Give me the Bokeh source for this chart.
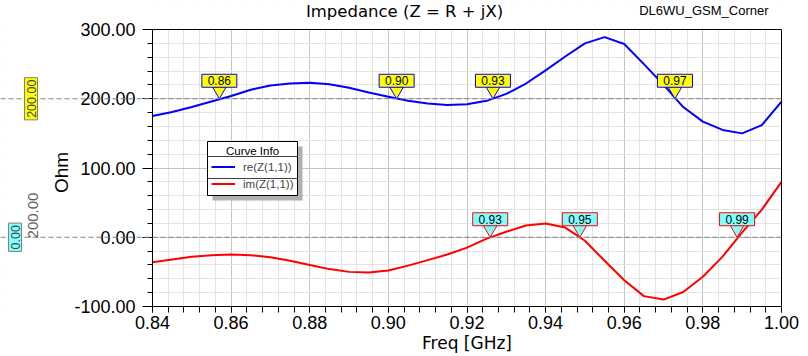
import numpy as np
from bokeh.plotting import figure
from bokeh.models import (Range1d, SingleIntervalTicker, NumeralTickFormatter, Label, Arrow,
                          BoxAnnotation, Legend, LegendItem, LinearAxis)
from bokeh.embed import file_html
from bokeh.resources import INLINE

# ---------------- data ----------------
freq = [0.840, 0.845, 0.850, 0.855, 0.860, 0.865, 0.870, 0.875, 0.880, 0.885, 0.890,
        0.895, 0.900, 0.905, 0.910, 0.915, 0.920, 0.925, 0.930, 0.935, 0.940, 0.945,
        0.950, 0.955, 0.960, 0.965, 0.970, 0.975, 0.980, 0.985, 0.990, 0.995, 1.000]
re_z = [175, 181, 188, 196, 204, 213, 219, 222, 223, 221, 216,
        209, 203, 197, 193, 191, 192, 197, 207, 222, 241, 261,
        280, 289, 279, 250, 220, 188, 167, 155, 150, 162, 196]
im_z = [-36, -32, -28, -26, -25, -26, -29, -34, -40, -46, -50,
        -51, -48, -41, -33, -25, -15, -2, 8, 17, 20, 14,
        -5, -34, -62, -85, -90, -79, -57, -28, 7, 40, 80]

re_marker_freq = [0.857, 0.9021, 0.9266, 0.9729]
re_marker_text = ["0.86", "0.90", "0.93", "0.97"]
re_marker_level = 200.0
im_marker_freq = [0.9259, 0.9487, 0.9887]
im_marker_text = ["0.93", "0.95", "0.99"]
im_marker_level = 0.0

title_text = "Impedance (Z = R + jX)"
corner_text = "DL6WU_GSM_Corner"
x_label = "Freq [GHz]"
y_label = "Ohm"
legend_title = "Curve Info"
re_name = "re(Z(1,1))"
im_name = "im(Z(1,1))"

# ---------------- layout ----------------
W, H = 808, 356
FL, FR, FT, FB = 152, 781, 29, 306          # where the data box sits on the canvas
XMIN, XMAX, YMIN, YMAX = 0.84, 1.00, -100.0, 300.0
PXX = (XMAX - XMIN) / (FR - FL)
PXY = (YMAX - YMIN) / (FB - FT)


def X(px):
    return XMIN + (px - FL) * PXX


def Y(py):
    return YMAX - (py - FT) * PXY


p = figure(width=W, height=H, x_range=Range1d(X(0), X(W)), y_range=Range1d(Y(H), Y(0)),
           output_backend="svg", toolbar_location=None, title=None,
           x_axis_location=None, y_axis_location=None,
           min_border=0, min_border_left=0, min_border_right=0, min_border_top=0,
           min_border_bottom=0)
p.background_fill_color = "white"
p.border_fill_color = "white"
p.outline_line_color = None

xt = SingleIntervalTicker(interval=0.02, num_minor_ticks=5)
yt = SingleIntervalTicker(interval=100, num_minor_ticks=5)

xaxis = LinearAxis(fixed_location=YMIN, bounds=(XMIN, XMAX), ticker=xt,
                   formatter=NumeralTickFormatter(format="0.00"))
yaxis = LinearAxis(fixed_location=XMIN, bounds=(YMIN, YMAX), ticker=yt,
                   formatter=NumeralTickFormatter(format="0.00"))
for ax in (xaxis, yaxis):
    ax.major_label_text_font = "Liberation Sans"
    ax.major_label_text_font_size = "18px"
    ax.major_label_text_color = "black"
    ax.axis_line_color = "black"
    ax.major_tick_line_color = "black"
    ax.minor_tick_line_color = "black"
    ax.major_tick_in = 0
    ax.minor_tick_in = 0
xaxis.major_tick_out = 6
xaxis.minor_tick_out = 6
xaxis.major_label_standoff = 3
yaxis.major_tick_out = 10
yaxis.minor_tick_out = 5
yaxis.major_label_standoff = 7
p.add_layout(xaxis, "below")
p.add_layout(yaxis, "left")

p.xgrid.ticker = xt
p.ygrid.ticker = yt
for g in (p.xgrid, p.ygrid):
    g.grid_line_color = "#c4c4c4"
    g.minor_grid_line_color = "#e4e4e4"

# white margins hide the grid outside the data box
for kw in (dict(left=X(0), right=XMIN), dict(left=XMAX, right=X(W)),
           dict(left=X(0), right=X(W), bottom=YMAX), dict(left=X(0), right=X(W), top=YMIN)):
    p.add_layout(BoxAnnotation(fill_color="white", fill_alpha=1, line_alpha=0,
                               level="underlay", **kw))

# frame border
p.add_layout(BoxAnnotation(left=XMIN, right=XMAX, bottom=YMIN, top=YMAX, fill_alpha=0,
                           line_color="black", line_width=1, line_alpha=1))

# dashed reference lines (extend into the left margin)
for lvl in (re_marker_level, im_marker_level):
    p.add_layout(Arrow(end=None, x_start=X(0), y_start=lvl, x_end=XMAX, y_end=lvl,
                       line_color="#808080", line_dash="5 3", line_width=1))

# curves
re_line = p.line(freq, re_z, line_color="#0000ff", line_width=2)
im_line = p.line(freq, im_z, line_color="#ff0000", line_width=2)


def add_markers(fs, texts, level, fill, border):
    fs = np.asarray(fs, dtype=float)
    xs = [[f - 7 * PXX, f + 7 * PXX, f] for f in fs]
    ys = [[level + 12 * PXY, level + 12 * PXY, level] for _ in fs]
    p.patches(xs, ys, fill_color=fill, line_color=border, line_width=1)
    p.rect(x=fs, y=[level + 18 * PXY] * len(fs), width=35 * PXX, height=13 * PXY,
           fill_color=fill, line_color=border, line_width=1)
    p.text(x=fs, y=[level + 18 * PXY] * len(fs), text=texts, text_align="center",
           text_baseline="middle", text_font_size="12px", text_color="black",
           text_font={"value": "Liberation Sans"})


add_markers(re_marker_freq, re_marker_text, re_marker_level, "#ffff00", "#0000ff")
add_markers(im_marker_freq, im_marker_text, im_marker_level, "#80ffff", "#ff0000")

# left-margin marker labels
p.add_layout(Label(x=X(30.5), y=re_marker_level, text="200.00", angle=np.pi / 2,
                   text_align="center", text_baseline="middle", text_font="Liberation Sans",
                   text_font_size="12.5px", background_fill_color="#ffff00",
                   border_line_color="#808080", padding=2))
p.add_layout(Label(x=X(14.5), y=im_marker_level, text="0.00", angle=np.pi / 2,
                   text_align="center", text_baseline="middle", text_font="Liberation Sans",
                   text_font_size="12.5px", background_fill_color="#80ffff",
                   border_line_color="#808080", padding=2))
p.add_layout(Label(x=X(32), y=Y(215), text="200.00", angle=np.pi / 2,
                   text_align="center", text_baseline="middle", text_font="Liberation Sans",
                   text_font_size="15px", text_color="#606060"))

# titles / axis labels
p.add_layout(Label(x=X(404), y=Y(10.5), text=title_text, text_align="center",
                   text_baseline="middle", text_font="DejaVu Sans",
                   text_font_size="16.5px", text_color="black"))
p.add_layout(Label(x=X(768), y=Y(10), text=corner_text, text_align="right",
                   text_baseline="middle", text_font="Liberation Sans",
                   text_font_size="13px", text_color="black"))
p.add_layout(Label(x=X(466.5), y=Y(342.5), text=x_label, text_align="center",
                   text_baseline="middle", text_font="DejaVu Sans",
                   text_font_size="17px", text_color="black"))
p.add_layout(Label(x=X(61), y=Y(172), text=y_label, angle=np.pi / 2, text_align="center",
                   text_baseline="middle", text_font="Liberation Sans",
                   text_font_size="19px", text_color="black"))

# legend box
p.add_layout(BoxAnnotation(left=X(212), right=X(302), top=Y(146), bottom=Y(200),
                           fill_color="#b0b0b0", fill_alpha=1, line_alpha=0))
p.add_layout(BoxAnnotation(left=X(207), right=X(297), top=Y(141), bottom=Y(195),
                           fill_color="white", fill_alpha=1, line_color="black",
                           line_width=1, line_alpha=1))
for sep in (156, 178):
    p.add_layout(Arrow(end=None, x_start=X(207), y_start=Y(sep), x_end=X(297), y_end=Y(sep),
                       line_color="#404040", line_width=1))
p.add_layout(Label(x=X(252), y=Y(150), text=legend_title, text_align="center",
                   text_baseline="middle", text_font="Liberation Sans",
                   text_font_size="11.5px", text_color="black"))
legend = Legend(items=[LegendItem(label=re_name, renderers=[re_line]),
                       LegendItem(label=im_name, renderers=[im_line])],
                location=(211, 164), padding=0, spacing=0, margin=0,
                glyph_width=24, glyph_height=17, label_height=17, label_standoff=8,
                label_text_font="Liberation Sans", label_text_font_size="11.5px",
                border_line_alpha=0, background_fill_alpha=0)
p.add_layout(legend)

open("out.html", "w").write(file_html(p, INLINE))
